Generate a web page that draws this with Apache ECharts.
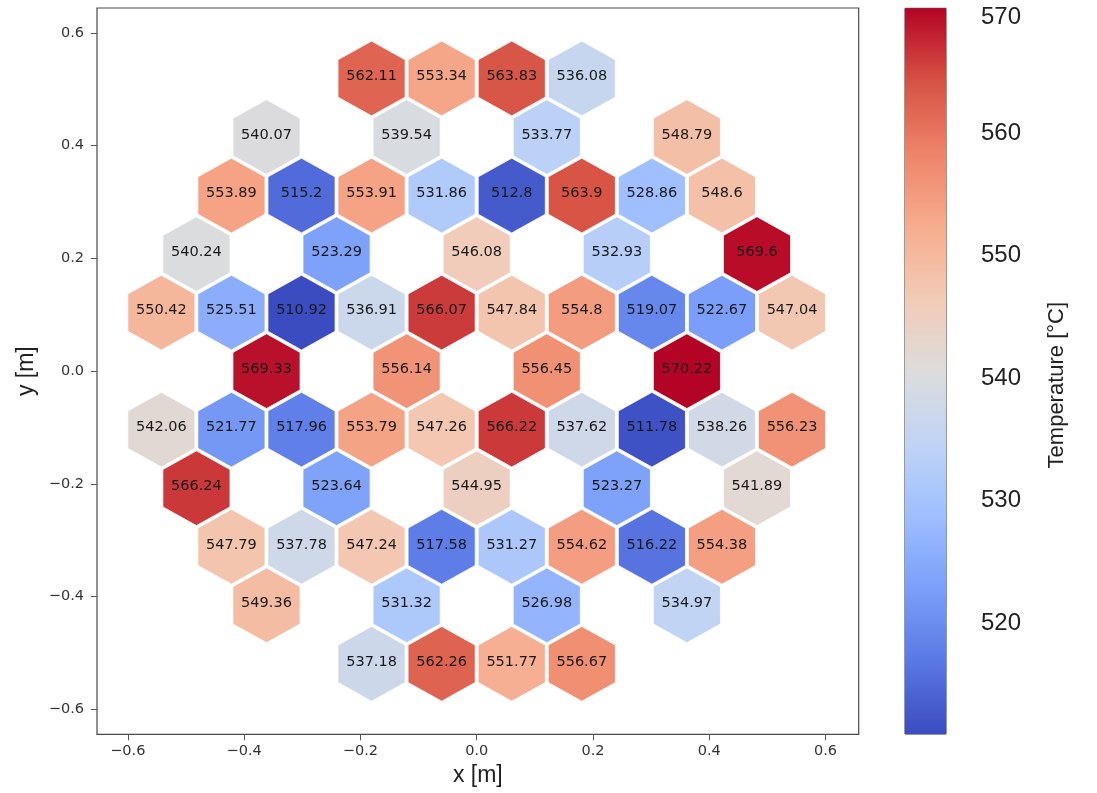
<!DOCTYPE html>
<html>
<head>
<meta charset="utf-8">
<script src="https://cdn.jsdelivr.net/npm/echarts@6/dist/echarts.min.js"></script>
<style>
html,body{margin:0;padding:0;background:#fff;}
#chart{width:1097px;height:793px;}
</style>
</head>
<body>
<div id="chart"></div>
<script>
// ---- data ----
// hexagon centre x [m]
const hexX = [
  -0.1808, -0.0603, 0.0603, 0.1808,
  -0.3615, -0.1205, 0.1205, 0.3615,
  -0.4218, -0.3013, -0.1808, -0.0603, 0.0603, 0.1808, 0.3013, 0.4218,
  -0.482, -0.241, 0.0, 0.241, 0.482,
  -0.5423, -0.4218, -0.3013, -0.1808, -0.0603, 0.0603, 0.1808, 0.3013, 0.4218, 0.5423,
  -0.3615, -0.1205, 0.1205, 0.3615,
  -0.5423, -0.4218, -0.3013, -0.1808, -0.0603, 0.0603, 0.1808, 0.3013, 0.4218, 0.5423,
  -0.482, -0.241, 0.0, 0.241, 0.482,
  -0.4218, -0.3013, -0.1808, -0.0603, 0.0603, 0.1808, 0.3013, 0.4218,
  -0.3615, -0.1205, 0.1205, 0.3615,
  -0.1808, -0.0603, 0.0603, 0.1808
];
// hexagon centre y [m]
const hexY = [
  0.519, 0.519, 0.519, 0.519,
  0.4152, 0.4152, 0.4152, 0.4152,
  0.3114, 0.3114, 0.3114, 0.3114, 0.3114, 0.3114, 0.3114, 0.3114,
  0.2076, 0.2076, 0.2076, 0.2076, 0.2076,
  0.1038, 0.1038, 0.1038, 0.1038, 0.1038, 0.1038, 0.1038, 0.1038, 0.1038, 0.1038,
  0.0, 0.0, 0.0, 0.0,
  -0.1038, -0.1038, -0.1038, -0.1038, -0.1038, -0.1038, -0.1038, -0.1038, -0.1038, -0.1038,
  -0.2076, -0.2076, -0.2076, -0.2076, -0.2076,
  -0.3114, -0.3114, -0.3114, -0.3114, -0.3114, -0.3114, -0.3114, -0.3114,
  -0.4152, -0.4152, -0.4152, -0.4152,
  -0.519, -0.519, -0.519, -0.519
];
// temperature [°C]
const hexT = [
  562.11, 553.34, 563.83, 536.08,
  540.07, 539.54, 533.77, 548.79,
  553.89, 515.2, 553.91, 531.86, 512.8, 563.9, 528.86, 548.6,
  540.24, 523.29, 546.08, 532.93, 569.6,
  550.42, 525.51, 510.92, 536.91, 566.07, 547.84, 554.8, 519.07, 522.67, 547.04,
  569.33, 556.14, 556.45, 570.22,
  542.06, 521.77, 517.96, 553.79, 547.26, 566.22, 537.62, 511.78, 538.26, 556.23,
  566.24, 523.64, 544.95, 523.27, 541.89,
  547.79, 537.78, 547.24, 517.58, 531.27, 554.62, 516.22, 554.38,
  549.36, 531.32, 526.98, 534.97,
  537.18, 562.26, 551.77, 556.67
];
const xTicks = [-0.6, -0.4, -0.2, 0.0, 0.2, 0.4, 0.6];
const yTicks = [-0.6, -0.4, -0.2, 0.0, 0.2, 0.4, 0.6];
const cbTicks = [520, 530, 540, 550, 560, 570];
const tMin = 510.92, tMax = 570.22;

// ---- styling / geometry ----
const coolwarm = ['#3b4cc0','#5a78e4','#7b9ff9','#9ebeff','#c0d4f5','#dddcdc',
                  '#f2cbb7','#f7ac8e','#ee8468','#d65244','#b40426'];
const HEX_R = 0.0692, HEX_HW = 0.06025, SHRINK = 0.958;

const fmt = v => (v < 0 ? '\u2212' : '') + Math.abs(v).toFixed(1);
const data = hexX.map((x, i) => [x, hexY[i], hexT[i]]);

const gradStops = coolwarm.map((c, i) => ({offset: 1 - i / (coolwarm.length - 1), color: c}))
  .sort((a, b) => a.offset - b.offset);

const chart = echarts.init(document.getElementById('chart'));
chart.setOption({
  animation: false,
  backgroundColor: '#fff',
  grid: [
    {left: 97, top: 8, width: 761.7, height: 726.3, show: true, borderColor: '#4a4a4a', borderWidth: 1.2},
    {left: 905, top: 8.3, width: 41, height: 725.7, show: true, borderColor: '#333', borderWidth: 1}
  ],
  xAxis: [
    {type: 'value', gridIndex: 0, min: -0.653, max: 0.657,
     splitLine: {show: false}, axisLine: {show: false, onZero: false},
     axisTick: {show: true, length: 6, lineStyle: {color: '#555'}, customValues: xTicks},
     axisLabel: {customValues: xTicks, formatter: fmt, margin: 9, fontSize: 14.5, color: '#333', fontFamily: 'DejaVu Sans'},
     name: 'x [m]', nameLocation: 'middle', nameGap: 30,
     nameTextStyle: {fontSize: 23, color: '#222', fontFamily: 'Liberation Sans'}},
    {type: 'value', gridIndex: 1, min: 0, max: 1, show: false}
  ],
  yAxis: [
    {type: 'value', gridIndex: 0, min: -0.644, max: 0.644,
     splitLine: {show: false}, axisLine: {show: false, onZero: false},
     axisTick: {show: true, length: 6, lineStyle: {color: '#555'}, customValues: yTicks},
     axisLabel: {customValues: yTicks, formatter: fmt, margin: 13, fontSize: 14.5, color: '#333', fontFamily: 'DejaVu Sans'},
     name: 'y [m]', nameLocation: 'middle', nameGap: 50,
     nameTextStyle: {fontSize: 23, color: '#222', fontFamily: 'Liberation Sans'}},
    {type: 'value', gridIndex: 1, position: 'right', min: tMin, max: tMax,
     splitLine: {show: false}, axisLine: {show: false},
     axisTick: {show: true, length: 5, lineStyle: {color: '#333'}, customValues: cbTicks},
     axisLabel: {customValues: cbTicks, margin: 35, fontSize: 24, color: '#222', fontFamily: 'Liberation Sans',
                 formatter: v => (v === 570 ? '{t|' + v + '}' : String(v)),
                 rich: {t: {padding: [12, 0, 0, 0], fontSize: 24, color: '#222', fontFamily: 'Liberation Sans'}}},
     name: 'Temperature [\u00B0C]', nameLocation: 'middle', nameRotate: 90, nameGap: 100,
     nameTextStyle: {fontSize: 22, color: '#222', fontFamily: 'Liberation Sans', padding: [0, 28, 0, 0]}}
  ],
  visualMap: {
    show: false, type: 'continuous', seriesIndex: 0, dimension: 2,
    min: tMin, max: tMax, inRange: {color: coolwarm}
  },
  series: [
    {
      type: 'custom', xAxisIndex: 0, yAxisIndex: 0, data: data,
      encode: {x: 0, y: 1},
      renderItem: function (params, api) {
        const x = api.value(0), y = api.value(1);
        const r = HEX_R * SHRINK, hw = HEX_HW * SHRINK;
        const pts = [[x, y + r], [x + hw, y + r / 2], [x + hw, y - r / 2],
                     [x, y - r], [x - hw, y - r / 2], [x - hw, y + r / 2]].map(p => api.coord(p));
        const c = api.coord([x, y]);
        return {
          type: 'group',
          children: [
            {type: 'polygon', shape: {points: pts},
             style: {fill: api.visual('color'), stroke: '#ffffff', lineWidth: 0.8}},
            {type: 'text', x: c[0], y: c[1] - 2,
             style: {text: String(hexT[params.dataIndex]), align: 'center', verticalAlign: 'middle',
                     fill: '#1a1a1a', font: '14.5px "DejaVu Sans"'}}
          ]
        };
      }
    },
    {
      type: 'custom', xAxisIndex: 1, yAxisIndex: 1, data: [[0, tMin]],
      renderItem: function (params, api) {
        const p0 = api.coord([0, tMax]);
        const p1 = api.coord([1, tMin]);
        return {type: 'rect',
                shape: {x: p0[0], y: p0[1], width: p1[0] - p0[0], height: p1[1] - p0[1]},
                style: {fill: new echarts.graphic.LinearGradient(0, 0, 0, 1, gradStops)}};
      }
    }
  ]
});
</script>
</body>
</html>
